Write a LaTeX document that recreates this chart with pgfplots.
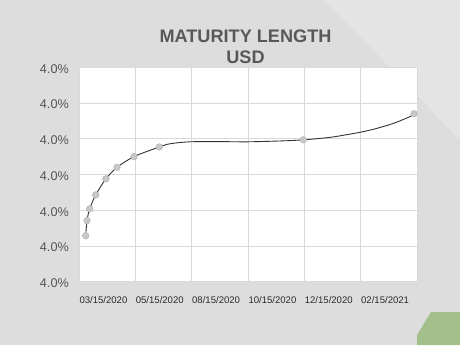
\documentclass[border=0pt]{standalone}
\usepackage{pgfplots}
\pgfplotsset{compat=1.18}
\usepackage{fontspec}
\setmainfont{Liberation Sans}
\definecolor{bg}{HTML}{DDDDDD}
\definecolor{bglight}{HTML}{E4E4E4}
\definecolor{leaf}{HTML}{A3BF8B}
\definecolor{gridgray}{HTML}{D9D9D9}
\definecolor{titlegray}{HTML}{585858}
\definecolor{ylab}{HTML}{555555}
\definecolor{xlab}{HTML}{2A2A2A}
\definecolor{line}{HTML}{333333}
\definecolor{mk}{HTML}{C8C8C8}
\definecolor{mkd}{HTML}{B4B4B4}
\begin{document}
\begin{tikzpicture}[x=1bp,y=1bp]
\fill[bg] (0,0) rectangle (460,345);
\fill[bglight] (325,345) -- (460,345) -- (460,205) -- cycle;
\fill[leaf] (431,33) -- (460,33) -- (460,0) -- (417,0) -- (417,10) -- cycle;
\useasboundingbox (0,0) rectangle (460,345);
\node[anchor=base, text=titlegray, font=\fontsize{18.2}{20}\selectfont\bfseries] at (245.5,303) {MATURITY LENGTH};
\node[anchor=base, text=titlegray, font=\fontsize{18.2}{20}\selectfont\bfseries] at (245.5,282) {USD};
\begin{axis}[
  at={(79bp,63.3bp)}, anchor=south west,
  scale only axis, width=338bp, height=214.4bp,
  xmin=0, xmax=6, ymin=0, ymax=6,
  axis background/.style={fill=white},
  axis line style={draw=none},
  grid=major,
  major grid style={draw=gridgray, line width=0.7bp},
  tick style={draw=none},
  xtick={0,1,2,3,4,5,6},
  xticklabels={03/15/2020,05/15/2020,08/15/2020,10/15/2020,12/15/2020,02/15/2021,{}},
  ytick={0,1,2,3,4,5,6},
  yticklabels={4.0\%,4.0\%,4.0\%,4.0\%,4.0\%,4.0\%,4.0\%},
  xticklabel style={anchor=north west, inner sep=0pt, yshift=-14.3bp, xshift=0.3bp, text=xlab, font=\fontsize{9.6}{11}\selectfont},
  yticklabel style={anchor=east, inner sep=0pt, xshift=-10bp, yshift=-1.5bp, text=ylab, font=\fontsize{12.7}{14}\selectfont},
  clip=false,
]
% data points
\addplot[only marks, mark=*, mark size=3.3bp, mark options={fill=mk, draw=mkd, line width=0.5bp}] coordinates {
(0.119,1.287) (0.142,1.707) (0.190,2.04) (0.297,2.43) (0.479,2.88) (0.675,3.20) (0.976,3.50) (1.426,3.77) (3.982,3.97) (5.948,4.70)
};
% smoothed line
\addplot[smooth, draw=line, line width=0.9bp] coordinates {
(0.119,1.287) (0.142,1.707) (0.190,2.04) (0.297,2.43) (0.479,2.88) (0.675,3.20) (0.976,3.50) (1.426,3.77) (1.615,3.86) (1.971,3.915) (2.503,3.92) (3.006,3.915) (3.598,3.94) (3.982,3.97) (4.456,4.04) (4.811,4.13) (5.047,4.20) (5.285,4.29) (5.580,4.43) (5.876,4.62) (5.948,4.70)
};
\end{axis}
\end{tikzpicture}
\end{document}
